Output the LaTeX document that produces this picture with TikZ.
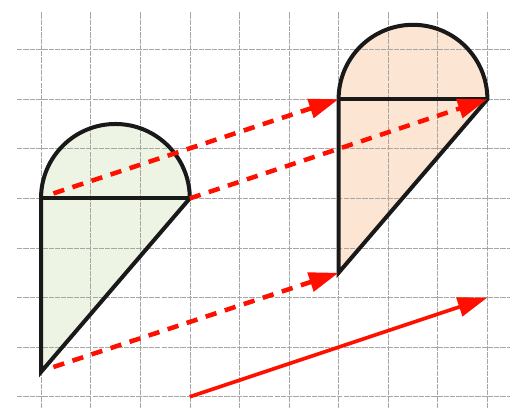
\documentclass[tikz,border=0pt]{standalone}
\usetikzlibrary{arrows.meta}

\begin{document}
\begin{tikzpicture}

    % Define colors
    \definecolor{startcolor}{HTML}{EDF4E3}
    \definecolor{imagecolor}{HTML}{FDE5D3}
    \colorlet{gridcolor}{gray!70}
    \colorlet{shiftcolor}{red!88!orange}

    \tikzset{
        gridline/.style={gridcolor, line width=0.35pt, dash pattern=on 3pt off 0.6pt},
        outline/.style={line width=2.3pt, line join=miter, black!90},
        shiftdash/.style={shiftcolor, line width=2.6pt, dash pattern=on 6.5pt off 5pt,
            -{Triangle[length=17pt, width=11pt]}},
        shiftvec/.style={shiftcolor, line width=2.1pt, -{Triangle[length=17pt, width=11pt]}}
    }

    \useasboundingbox (-0.827, -0.222) rectangle (9.718, 8.0);

    % ===== KEY POINTS =====
    \coordinate (A) at (0, 4);
    \coordinate (B) at (3, 4);
    \coordinate (C) at (0, 0.5);
    \coordinate (A') at (6, 6);
    \coordinate (B') at (9, 6);
    \coordinate (C') at (6, 2.5);
    \coordinate (vstart) at (3, 0);
    \coordinate (vend) at (9, 2);

    % 1. Fills of the two shapes
    \fill[startcolor] (C) -- (A) arc[start angle=180, end angle=0, radius=1.5] -- cycle;
    \fill[imagecolor] (C') -- (A') arc[start angle=180, end angle=0, radius=1.5] -- cycle;

    % 2. Grid
    \foreach \y in {0,...,7}
        \draw[gridline] (-0.48, \y) -- (9.46, \y);
    \foreach \x in {0,...,9}
        \draw[gridline] (\x, -0.222) -- (\x, 7.76);

    % 3. Outlines
    \draw[outline] (C) -- (A) arc[start angle=180, end angle=0, radius=1.5] -- cycle;
    \draw[outline] (A) -- (B);
    \draw[outline] (C') -- (A') arc[start angle=180, end angle=0, radius=1.5] -- cycle;
    \draw[outline] (A') -- (B');

    % 4. Translation arrows
    \draw[shiftdash] ([shift={(0.25,0.1)}]A) -- (A');
    \draw[shiftdash] (B) -- (B');
    \draw[shiftdash] ([shift={(0.25,0.1)}]C) -- (C');
    \draw[shiftvec] (vstart) -- (vend);

\end{tikzpicture}
\end{document}
